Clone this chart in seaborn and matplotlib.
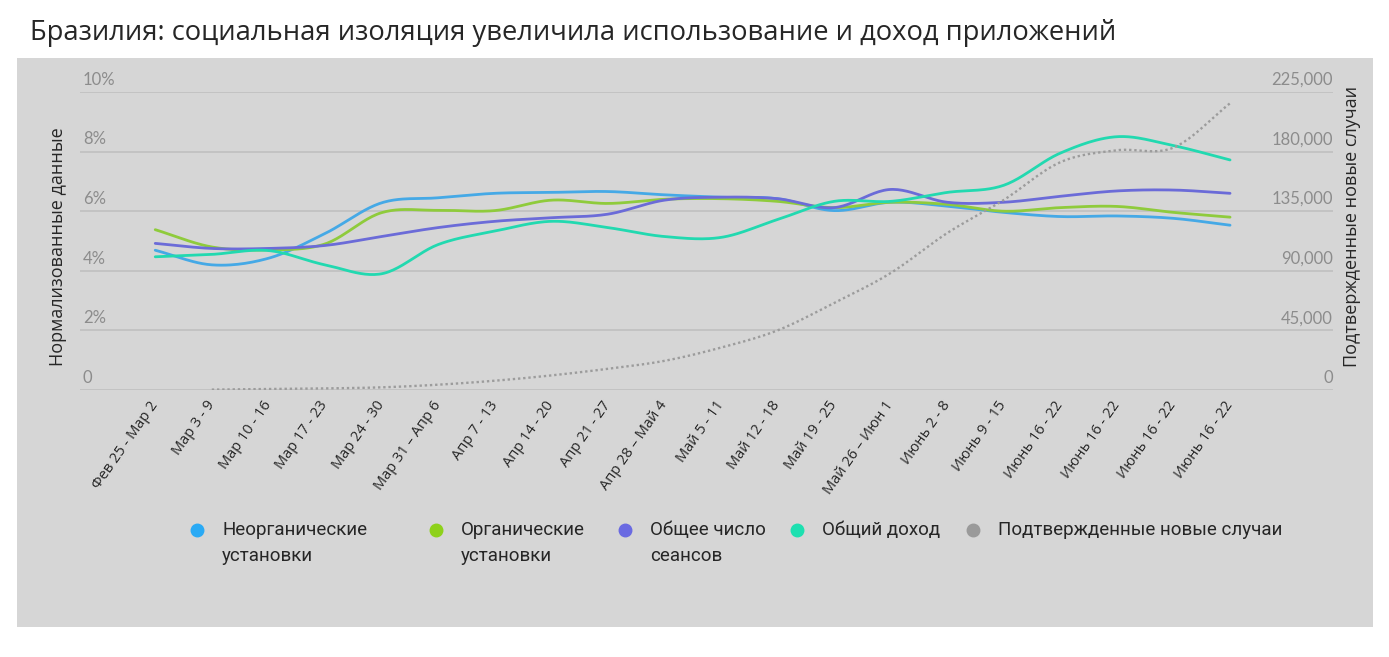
import numpy as np
import pandas as pd
import matplotlib
matplotlib.use("Agg")
import matplotlib.pyplot as plt
import seaborn as sns
from matplotlib.patches import Rectangle
from matplotlib.lines import Line2D
from matplotlib.transforms import blended_transform_factory, offset_copy

weeks = ["Фев 25 - Мар 2", "Мар 3 - 9", "Мар 10 - 16", "Мар 17 - 23", "Мар 24 - 30",
         "Мар 31 – Апр 6", "Апр 7 - 13", "Апр 14 - 20", "Апр 21 - 27", "Апр 28 – Май 4",
         "Май 5 - 11", "Май 12 - 18", "Май 19 - 25", "Май 26 – Июн 1", "Июнь 2 - 8",
         "Июнь 9 - 15", "Июнь 16 - 22", "Июнь 16 - 22", "Июнь 16 - 22", "Июнь 16 - 22"]

inorganic = [4.69, 4.2, 4.42, 5.25, 6.28, 6.45, 6.6, 6.63, 6.66, 6.55,
             6.47, 6.42, 6.02, 6.3, 6.17, 5.96, 5.82, 5.84, 5.76, 5.53]
organic = [5.38, 4.8, 4.7, 4.9, 5.95, 6.03, 6.02, 6.37, 6.26, 6.4,
           6.42, 6.33, 6.12, 6.3, 6.23, 6.0, 6.12, 6.16, 5.96, 5.8]
sessions = [4.92, 4.75, 4.75, 4.85, 5.15, 5.45, 5.66, 5.78, 5.9, 6.37,
            6.47, 6.42, 6.12, 6.73, 6.3, 6.3, 6.5, 6.68, 6.71, 6.6]
revenue = [4.47, 4.55, 4.68, 4.2, 3.9, 4.88, 5.33, 5.66, 5.45, 5.15,
           5.12, 5.72, 6.33, 6.33, 6.63, 6.87, 7.95, 8.5, 8.2, 7.72]
cases = [np.nan, 300, 800, 1200, 2000, 4000, 7000, 11000, 16000, 22000,
         32000, 45000, 65700, 88300, 118500, 143500, 172000, 181000, 183000, 216500]

series_names = ["Неорганические\nустановки", "Органические\nустановки",
                "Общее число\nсеансов", "Общий доход"]
cases_name = "Подтвержденные новые случаи"
colors = ["#45a9e6", "#8fcb3c", "#6b6bd8", "#22d9b0"]
legend_colors = ["#2aaaf5", "#8ed11b", "#6a6ae2", "#1de0b0", "#9a9a9a"]

left_ticks = [0, 2, 4, 6, 8, 10]
right_ticks = [0, 45000, 90000, 135000, 180000, 225000]


def smooth(vals, n=24):
    # catmull-rom spline through the weekly points
    y = np.asarray(vals, float)
    x0 = int(np.argmax(~np.isnan(y)))
    y = y[x0:]
    p = np.concatenate([[2 * y[0] - y[1]], y, [2 * y[-1] - y[-2]]])
    xs, ys = [], []
    t = np.linspace(0, 1, n, endpoint=False)
    for i in range(len(y) - 1):
        p0, p1, p2, p3 = p[i], p[i + 1], p[i + 2], p[i + 3]
        ys.append(0.5 * (2 * p1 + (-p0 + p2) * t + (2 * p0 - 5 * p1 + 4 * p2 - p3) * t ** 2
                         + (-p0 + 3 * p1 - 3 * p2 + p3) * t ** 3))
        xs.append(x0 + i + t)
    xs.append([x0 + len(y) - 1])
    ys.append([y[-1]])
    return np.concatenate(xs), np.concatenate(ys)


rows = []
for name, vals in zip(series_names, [inorganic, organic, sessions, revenue]):
    xs, ys = smooth(vals)
    rows.append(pd.DataFrame({"x": xs, "y": ys, "series": name}))
df = pd.concat(rows, ignore_index=True)
cx, cy = smooth(cases)
df_cases = pd.DataFrame({"x": cx, "y": cy})

sns.set_style("white")
plt.rcParams["font.family"] = ["Open Sans", "DejaVu Sans"]

fig = plt.figure(figsize=(13.89, 6.57), dpi=100)
fig.patches.append(Rectangle((17 / 1389, 1 - 627 / 657), (1373 - 17) / 1389, (627 - 58) / 657,
                             transform=fig.transFigure, facecolor="#d6d6d6", edgecolor="none", zorder=-5))

ax = fig.add_axes([80 / 1389, 1 - 390 / 657, 1253 / 1389, 298 / 657])
ax.set_facecolor("none")
ax2 = ax.twinx()
ax2.set_facecolor("none")
ax.set_zorder(2)
ax2.set_zorder(3)

sns.lineplot(data=df, x="x", y="y", hue="series", palette=colors, linewidth=2.0,
             legend=False, sort=False, estimator=None, ax=ax)
sns.lineplot(data=df_cases, x="x", y="y", color="#9c9c9c", linewidth=1.7,
             linestyle=(0, (1, 1.2)), legend=False, sort=False, estimator=None, ax=ax2)

ax.set_xlim(-1.33, 20.82)
ax.set_ylim(0, 10)
ax2.set_ylim(0, 225000)
for a in (ax, ax2):
    a.set_xlabel("")
    a.set_ylabel("")
    a.set_yticks([])
    for s in a.spines.values():
        s.set_visible(False)

for v in left_ticks:
    ax.axhline(v, color="#c3c3c3", linewidth=1.4, zorder=0)

# tick labels sit above the gridlines, inside the plot
tr_l = offset_copy(blended_transform_factory(ax.transAxes, ax.transData), fig=fig, x=2, y=3, units="points")
for v in left_ticks:
    ax.text(0, v, "0" if v == 0 else f"{v}%", transform=tr_l, ha="left", va="bottom",
            fontsize=12, color="#8c8c8c", family=["Lato", "DejaVu Sans"])
tr_r = offset_copy(blended_transform_factory(ax2.transAxes, ax2.transData), fig=fig, x=0, y=3, units="points")
for v in right_ticks:
    ax2.text(1, v, f"{v:,}", transform=tr_r, ha="right", va="bottom",
             fontsize=12, color="#8c8c8c", family=["Lato", "DejaVu Sans"])

ax.set_xticks(range(len(weeks)))
ax.set_xticklabels(weeks, rotation=55, ha="right", va="center", rotation_mode="anchor",
                   fontsize=10.5)
ax.tick_params(axis="x", length=0, pad=9)
ax.xaxis.set_ticks_position("bottom")

fig.text(58 / 1389, 1 - 247 / 657, "Нормализованные данные", rotation=90, ha="center", va="center",
         fontsize=13)
fig.text(1352 / 1389, 1 - 226 / 657, cases_name, rotation=90, ha="center", va="center",
         fontsize=13)

fig.text(30 / 1389, 1 - 33 / 657, "Бразилия: социальная изоляция увеличила использование и доход приложений",
         ha="left", va="center", fontsize=19.7)

# legend
leg_x = [197, 436, 625, 797, 973]
for x, c, name in zip(leg_x, legend_colors, series_names + [cases_name]):
    fig.lines.append(Line2D([x / 1389], [1 - 530 / 657], marker="o", markersize=9, color=c,
                            linestyle="none", transform=fig.transFigure))
    fig.text((x + 25) / 1389, 1 - 521 / 657, name, ha="left", va="top", fontsize=13.5,
             linespacing=1.6, family=["Roboto", "DejaVu Sans"])

fig.savefig("out.png", dpi=100, facecolor="white")
